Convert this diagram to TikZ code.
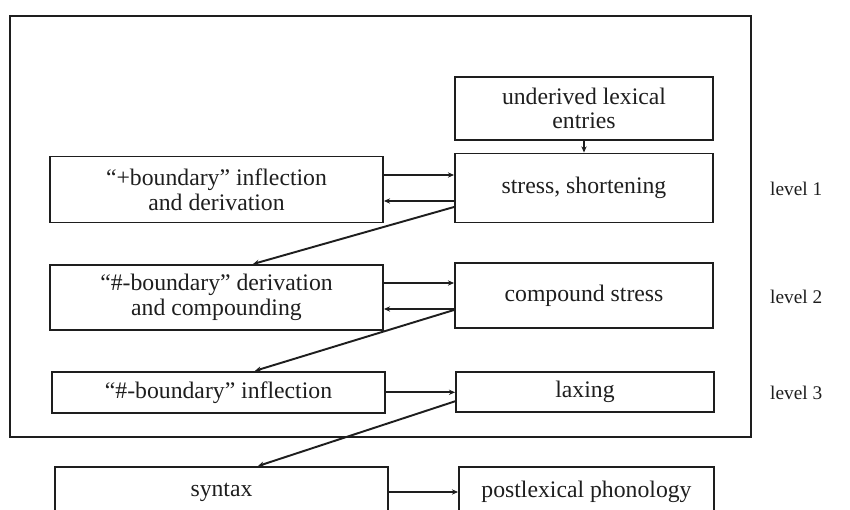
\documentclass[tikz,border=0pt]{standalone}
\usepackage{fontspec}
\setmainfont{Liberation Serif}
\usetikzlibrary{arrows.meta, positioning}
\definecolor{ink}{RGB}{30,30,30}
\tikzset{
  box/.style={rectangle, draw=ink, text=ink, line width=1.1pt, inner sep=2pt,
    align=center, font=\fontsize{13.5}{14}\selectfont},
  morph/.style={box, minimum width=6.66cm, minimum height=1.32cm},
  phon/.style={box, minimum width=5.16cm, minimum height=1.32cm},
  link/.style={draw=ink, line width=1.1pt, -{Stealth[length=3.5pt, width=3pt]}},
  lvl/.style={anchor=west, text=ink, font=\fontsize{11}{13}\selectfont}
}
\begin{document}
\begin{tikzpicture}[x=0.02cm, y=-0.02cm]
  \useasboundingbox (0,0) rectangle (850,510);
  \clip (0,0) rectangle (850,510);

  % lexicon frame
  \draw[ink, line width=1.2pt] (10,16) rectangle (751,437);

  % Level boxes
  \node[phon, minimum height=1.26cm] (lex) at (584,108.5) {underived lexical\\entries};
  \node[morph] (m1) at (216.5,189.5) {``+boundary'' inflection\\and derivation};
  \node[phon, minimum height=1.38cm] (p1) at (584,188) {stress, shortening};
  \node[morph, minimum height=1.30cm] (m2) at (216.5,297.5) {``\#-boundary'' derivation\\and compounding};
  \node[phon, minimum height=1.30cm] (p2) at (584,295.5) {compound stress};
  \node[morph, minimum height=0.82cm] (m3) at (218.5,392.3) {``\#-boundary'' inflection};
  \node[phon, minimum height=0.80cm] (p3) at (585,392.3) {laxing};
  \node[morph, minimum height=1.0cm] (syn) at (221.5,492) {syntax};
  \node[phon, minimum width=5.1cm, minimum height=1.0cm] (post) at (586.5,492) {postlexical phonology};

  % Level labels
  \node[lvl] (l1) at (764,189) {level 1};
  \node[lvl] (l2) at (764,297) {level 2};
  \node[lvl] (l3) at (764,393) {level 3};

  % Connectors
  \draw[link] (lex) -- (p1);
  \draw[link] ([yshift=0.29cm]m1.east) -- ([yshift=0.29cm]m1.east -| p1.west);
  \draw[link] ([yshift=-0.23cm]m1.east -| p1.west) -- ([yshift=-0.23cm]m1.east);
  \draw[link] ([yshift=-0.38cm]p1.west) -- ([xshift=0.73cm]m2.north);
  \draw[link] ([yshift=0.29cm]m2.east) -- ([yshift=0.29cm]m2.east -| p2.west);
  \draw[link] ([yshift=-0.23cm]m2.east -| p2.west) -- ([yshift=-0.23cm]m2.east);
  \draw[link] ([yshift=-0.29cm]p2.west) -- ([xshift=0.73cm]m3.north);
  \draw[link] (m3.east) -- (m3.east -| p3.west);
  \draw[link] ([yshift=-0.18cm]p3.west) -- ([xshift=0.73cm]syn.north);
  \draw[link] (syn.east) -- (syn.east -| post.west);
\end{tikzpicture}
\end{document}
